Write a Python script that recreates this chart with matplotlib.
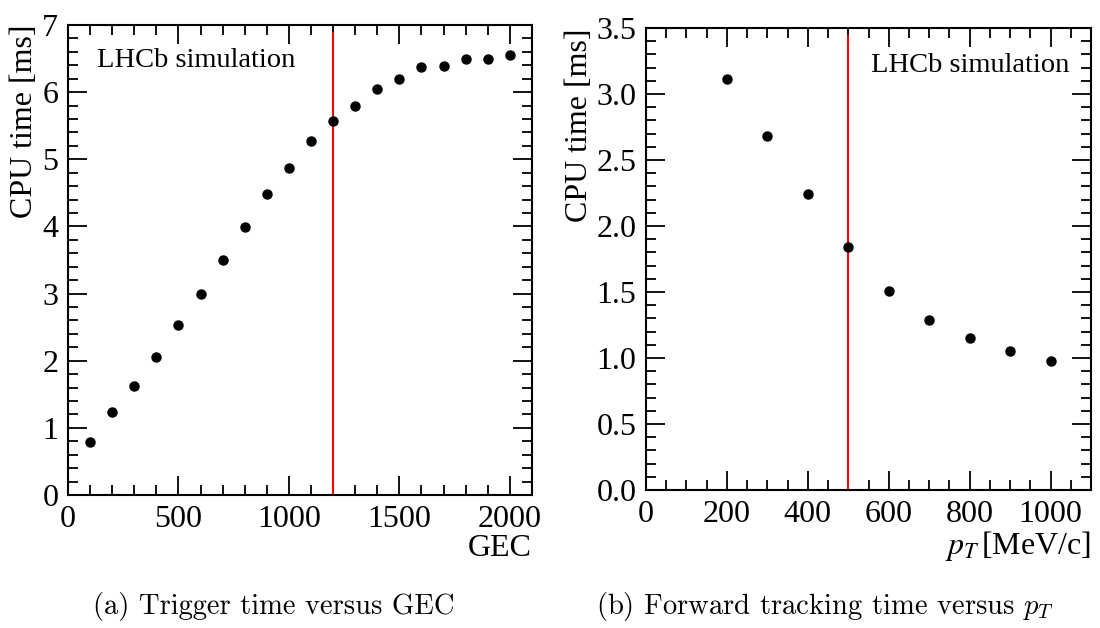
import numpy as np
import matplotlib
matplotlib.use('Agg')
import matplotlib.pyplot as plt
from matplotlib.ticker import MultipleLocator

# trigger time vs GEC
gec = [100, 200, 300, 400, 500, 600, 700, 800, 900, 1000,
       1100, 1200, 1300, 1400, 1500, 1600, 1700, 1800, 1900, 2000]
gec_time = [0.79, 1.23, 1.62, 2.06, 2.53, 2.99, 3.50, 3.99, 4.48, 4.87,
            5.27, 5.57, 5.80, 6.05, 6.20, 6.37, 6.39, 6.50, 6.50, 6.56]
gec_cut = 1200

# forward tracking time vs pT
pt = [200, 300, 400, 500, 600, 700, 800, 900, 1000]
pt_time = [3.11, 2.68, 2.24, 1.84, 1.51, 1.29, 1.15, 1.05, 0.98]
pt_cut = 500

plt.rcParams['font.family'] = ['Liberation Serif', 'DejaVu Serif']
plt.rcParams['mathtext.fontset'] = 'stix'

fig = plt.figure(figsize=(11, 6.28), dpi=100)
ax1 = fig.add_axes([0.0618, 0.2118, 0.4218, 0.7484])
ax2 = fig.add_axes([0.5873, 0.2197, 0.4045, 0.7357])


def style(ax):
    ax.tick_params(which='both', direction='in', top=True, right=True,
                   labelsize=23, width=1.3, colors='black')
    ax.tick_params(which='major', length=14, pad=7)
    ax.tick_params(which='minor', length=7)
    for s in ax.spines.values():
        s.set_linewidth(1.5)


# left panel
ax1.plot(gec, gec_time, 'o', color='black', markersize=6.5, zorder=3)
ax1.vlines(gec_cut, 0, 6.9, color='red', linewidth=1.5, zorder=2)
ax1.set_xlim(0, 2100)
ax1.set_ylim(0, 7)
ax1.xaxis.set_major_locator(MultipleLocator(500))
ax1.xaxis.set_minor_locator(MultipleLocator(100))
ax1.yaxis.set_major_locator(MultipleLocator(1))
ax1.yaxis.set_minor_locator(MultipleLocator(0.2))
style(ax1)
ax1.set_xlabel('GEC', loc='right', fontsize=23, labelpad=0)
ax1.set_ylabel('CPU time [ms]', loc='top', fontsize=23, labelpad=2)
ax1.text(0.062, 0.95, 'LHCb simulation', transform=ax1.transAxes,
         fontsize=20.5, va='top', ha='left')

# right panel
ax2.plot(pt, pt_time, 'o', color='black', markersize=6.5, zorder=3)
ax2.vlines(pt_cut, 0, 3.45, color='red', linewidth=1.5, zorder=2)
ax2.set_xlim(0, 1100)
ax2.set_ylim(0, 3.5)
ax2.xaxis.set_major_locator(MultipleLocator(200))
ax2.xaxis.set_minor_locator(MultipleLocator(50))
ax2.yaxis.set_major_locator(MultipleLocator(0.5))
ax2.yaxis.set_minor_locator(MultipleLocator(0.1))
ax2.yaxis.set_major_formatter(matplotlib.ticker.FormatStrFormatter('%.1f'))
style(ax2)
ax2.set_xlabel(r'$p_T\,$[MeV/c]', loc='right', fontsize=23, labelpad=0)
ax2.set_ylabel('CPU time [ms]', loc='top', fontsize=23, labelpad=2)
ax2.text(0.505, 0.945, 'LHCb simulation', transform=ax2.transAxes,
         fontsize=20.5, va='top', ha='left')

# captions
fig.text(0.249, 0.022, '(a) Trigger time versus GEC', ha='center',
         fontsize=20.6, family='cmr10')
fig.text(0.750, 0.022, r'(b) Forward tracking time versus $p_T$', ha='center',
         fontsize=20.6, family='cmr10', math_fontfamily='cm')

fig.savefig('out.png', dpi=100)
